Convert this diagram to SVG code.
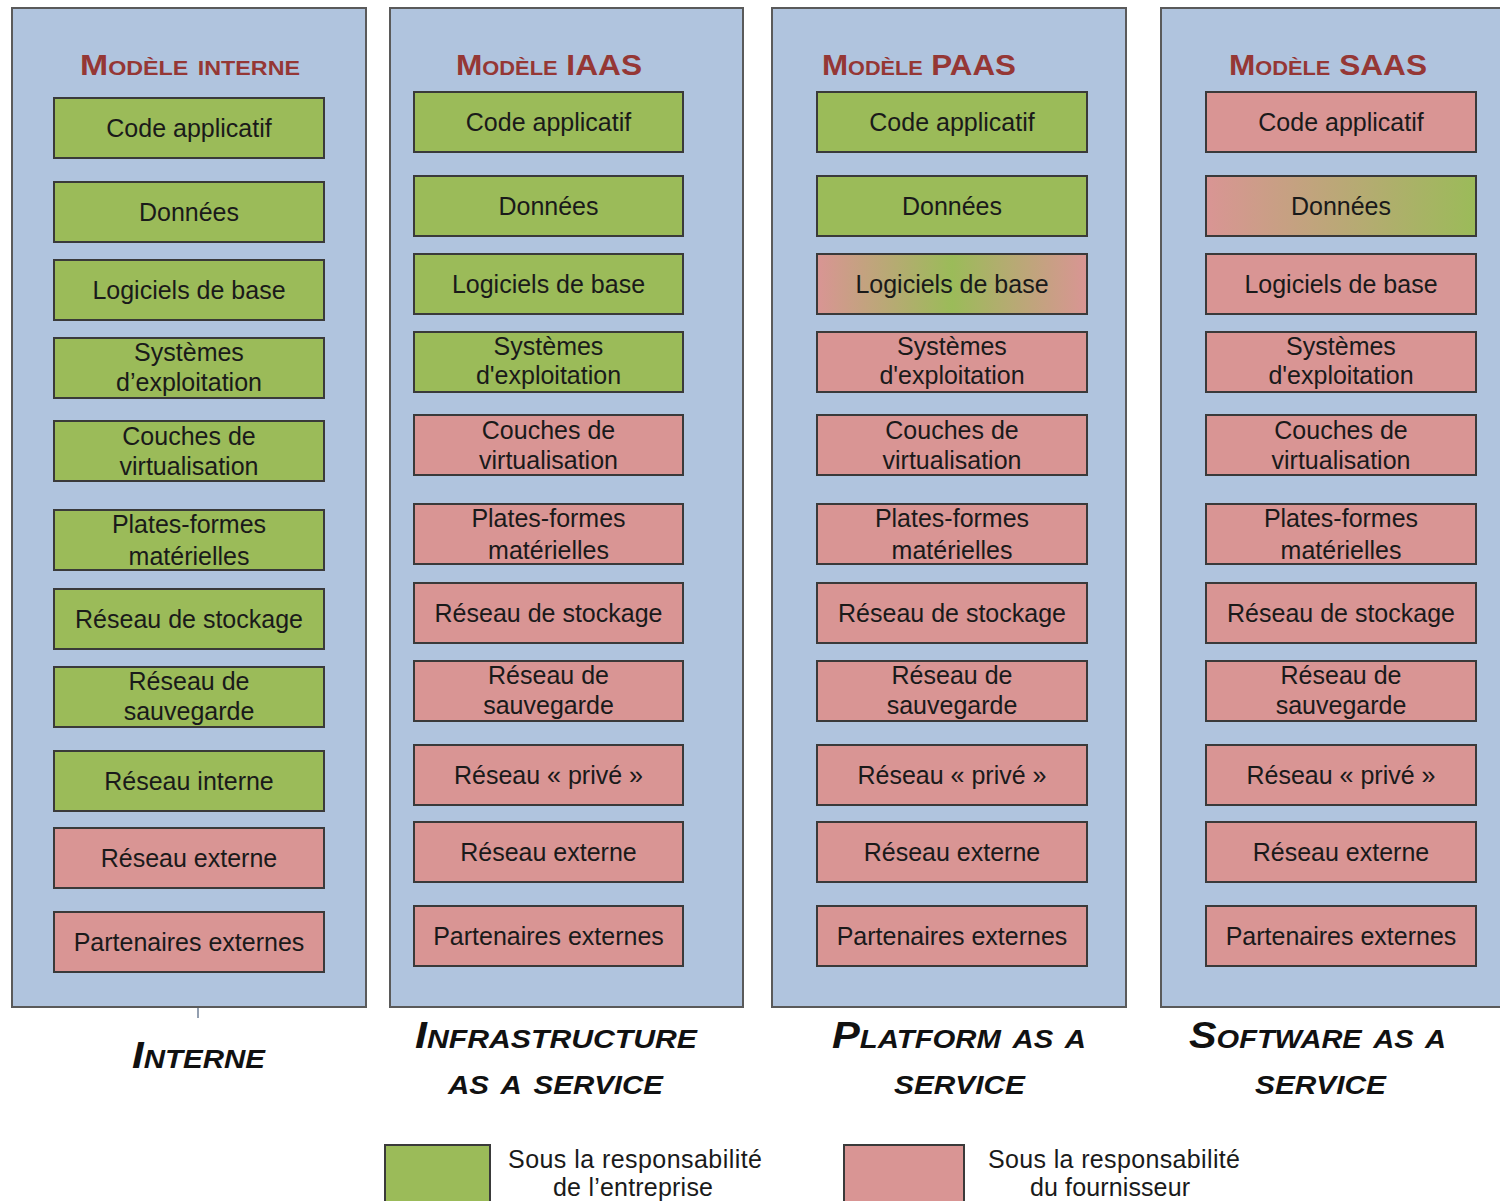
<svg xmlns="http://www.w3.org/2000/svg" width="1500" height="1201" viewBox="0 0 1500 1201">
<style>
.col{fill:#b0c4de;stroke:#5a5a5a;stroke-width:2}
.g{fill:#9bbb59;stroke:#3a3a3a;stroke-width:2}
.p{fill:#d99594;stroke:#3a3a3a;stroke-width:2}
.t{font-family:"Liberation Sans",Arial,sans-serif;font-size:25px;fill:#1a1a1a;text-anchor:middle}
.h{font-family:"Liberation Sans",Arial,sans-serif;font-size:29px;font-weight:bold;font-variant:small-caps;fill:#953735;text-anchor:middle}
.b{font-family:"Liberation Sans",Arial,sans-serif;font-size:37px;font-weight:bold;font-style:italic;font-variant:small-caps;fill:#111;text-anchor:middle}
.l{font-family:"Liberation Sans",Arial,sans-serif;font-size:25px;fill:#1a1a1a;text-anchor:middle}
.c{stroke:#6f7f96;stroke-width:1.5;fill:none}
</style>
<defs>
<linearGradient id="gpg" x1="0" y1="0" x2="1" y2="0">
<stop offset="0" stop-color="#d99594"/><stop offset="0.5" stop-color="#9bbb59"/><stop offset="1" stop-color="#d99594"/>
</linearGradient>
<linearGradient id="gpg2" x1="0" y1="0" x2="1" y2="0">
<stop offset="0" stop-color="#d99594"/><stop offset="1" stop-color="#9bbb59"/>
</linearGradient>
</defs>
<rect width="1500" height="1201" fill="#ffffff"/>

<g id="connectors">
<line class="c" x1="952" y1="315" x2="952" y2="331"/>
<line class="c" x1="198" y1="1008" x2="198" y2="1018"/>
</g>

<g id="col-interne">
<rect class="col" x="12" y="8" width="354" height="999"/>
<text class="h" x="190" y="75" textLength="220" lengthAdjust="spacingAndGlyphs">Modèle interne</text>
<g id="i1"><rect class="g" x="54" y="98" width="270" height="60"/><text class="t" x="189" y="137">Code applicatif</text></g>
<g id="i2"><rect class="g" x="54" y="182" width="270" height="60"/><text class="t" x="189" y="221">Données</text></g>
<g id="i3"><rect class="g" x="54" y="260" width="270" height="60"/><text class="t" x="189" y="299">Logiciels de base</text></g>
<g id="i4"><rect class="g" x="54" y="338" width="270" height="60"/><text class="t" x="189" y="361">Systèmes</text><text class="t" x="189" y="391">d’exploitation</text></g>
<g id="i5"><rect class="g" x="54" y="421" width="270" height="60"/><text class="t" x="189" y="445">Couches de</text><text class="t" x="189" y="475">virtualisation</text></g>
<g id="i6"><rect class="g" x="54" y="510" width="270" height="60"/><text class="t" x="189" y="533">Plates-formes</text><text class="t" x="189" y="565">matérielles</text></g>
<g id="i7"><rect class="g" x="54" y="589" width="270" height="60"/><text class="t" x="189" y="628">Réseau de stockage</text></g>
<g id="i8"><rect class="g" x="54" y="667" width="270" height="60"/><text class="t" x="189" y="690">Réseau de</text><text class="t" x="189" y="720">sauvegarde</text></g>
<g id="i9"><rect class="g" x="54" y="751" width="270" height="60"/><text class="t" x="189" y="790">Réseau interne</text></g>
<g id="i10"><rect class="p" x="54" y="828" width="270" height="60"/><text class="t" x="189" y="867">Réseau externe</text></g>
<g id="i11"><rect class="p" x="54" y="912" width="270" height="60"/><text class="t" x="189" y="951">Partenaires externes</text></g>
</g>

<g id="col-iaas">
<rect class="col" x="390" y="8" width="353" height="999"/>
<text class="h" x="549" y="75" textLength="186" lengthAdjust="spacingAndGlyphs">Modèle IAAS</text>
<g id="a1"><rect class="g" x="414" y="92" width="269" height="60"/><text class="t" x="548.5" y="131">Code applicatif</text></g>
<g id="a2"><rect class="g" x="414" y="176" width="269" height="60"/><text class="t" x="548.5" y="215">Données</text></g>
<g id="a3"><rect class="g" x="414" y="254" width="269" height="60"/><text class="t" x="548.5" y="293">Logiciels de base</text></g>
<g id="a4"><rect class="g" x="414" y="332" width="269" height="60"/><text class="t" x="548.5" y="355">Systèmes</text><text class="t" x="548.5" y="384">d'exploitation</text></g>
<g id="a5"><rect class="p" x="414" y="415" width="269" height="60"/><text class="t" x="548.5" y="439">Couches de</text><text class="t" x="548.5" y="469">virtualisation</text></g>
<g id="a6"><rect class="p" x="414" y="504" width="269" height="60"/><text class="t" x="548.5" y="527">Plates-formes</text><text class="t" x="548.5" y="559">matérielles</text></g>
<g id="a7"><rect class="p" x="414" y="583" width="269" height="60"/><text class="t" x="548.5" y="622">Réseau de stockage</text></g>
<g id="a8"><rect class="p" x="414" y="661" width="269" height="60"/><text class="t" x="548.5" y="684">Réseau de</text><text class="t" x="548.5" y="714">sauvegarde</text></g>
<g id="a9"><rect class="p" x="414" y="745" width="269" height="60"/><text class="t" x="548.5" y="784">Réseau « privé »</text></g>
<g id="a10"><rect class="p" x="414" y="822" width="269" height="60"/><text class="t" x="548.5" y="861">Réseau externe</text></g>
<g id="a11"><rect class="p" x="414" y="906" width="269" height="60"/><text class="t" x="548.5" y="945">Partenaires externes</text></g>
</g>

<g id="col-paas">
<rect class="col" x="772" y="8" width="354" height="999"/>
<text class="h" x="919" y="75" textLength="194" lengthAdjust="spacingAndGlyphs">Modèle PAAS</text>
<g id="b1"><rect class="g" x="817" y="92" width="270" height="60"/><text class="t" x="952" y="131">Code applicatif</text></g>
<g id="b2"><rect class="g" x="817" y="176" width="270" height="60"/><text class="t" x="952" y="215">Données</text></g>
<g id="b3"><rect x="817" y="254" width="270" height="60" fill="url(#gpg)" stroke="#3a3a3a" stroke-width="2"/><text class="t" x="952" y="293">Logiciels de base</text></g>
<g id="b4"><rect class="p" x="817" y="332" width="270" height="60"/><text class="t" x="952" y="355">Systèmes</text><text class="t" x="952" y="384">d'exploitation</text></g>
<g id="b5"><rect class="p" x="817" y="415" width="270" height="60"/><text class="t" x="952" y="439">Couches de</text><text class="t" x="952" y="469">virtualisation</text></g>
<g id="b6"><rect class="p" x="817" y="504" width="270" height="60"/><text class="t" x="952" y="527">Plates-formes</text><text class="t" x="952" y="559">matérielles</text></g>
<g id="b7"><rect class="p" x="817" y="583" width="270" height="60"/><text class="t" x="952" y="622">Réseau de stockage</text></g>
<g id="b8"><rect class="p" x="817" y="661" width="270" height="60"/><text class="t" x="952" y="684">Réseau de</text><text class="t" x="952" y="714">sauvegarde</text></g>
<g id="b9"><rect class="p" x="817" y="745" width="270" height="60"/><text class="t" x="952" y="784">Réseau « privé »</text></g>
<g id="b10"><rect class="p" x="817" y="822" width="270" height="60"/><text class="t" x="952" y="861">Réseau externe</text></g>
<g id="b11"><rect class="p" x="817" y="906" width="270" height="60"/><text class="t" x="952" y="945">Partenaires externes</text></g>
</g>

<g id="col-saas">
<rect class="col" x="1161" y="8" width="345" height="999"/>
<text class="h" x="1328" y="75" textLength="198" lengthAdjust="spacingAndGlyphs">Modèle SAAS</text>
<g id="s1"><rect class="p" x="1206" y="92" width="270" height="60"/><text class="t" x="1341" y="131">Code applicatif</text></g>
<g id="s2"><rect x="1206" y="176" width="270" height="60" fill="url(#gpg2)" stroke="#3a3a3a" stroke-width="2"/><text class="t" x="1341" y="215">Données</text></g>
<g id="s3"><rect class="p" x="1206" y="254" width="270" height="60"/><text class="t" x="1341" y="293">Logiciels de base</text></g>
<g id="s4"><rect class="p" x="1206" y="332" width="270" height="60"/><text class="t" x="1341" y="355">Systèmes</text><text class="t" x="1341" y="384">d'exploitation</text></g>
<g id="s5"><rect class="p" x="1206" y="415" width="270" height="60"/><text class="t" x="1341" y="439">Couches de</text><text class="t" x="1341" y="469">virtualisation</text></g>
<g id="s6"><rect class="p" x="1206" y="504" width="270" height="60"/><text class="t" x="1341" y="527">Plates-formes</text><text class="t" x="1341" y="559">matérielles</text></g>
<g id="s7"><rect class="p" x="1206" y="583" width="270" height="60"/><text class="t" x="1341" y="622">Réseau de stockage</text></g>
<g id="s8"><rect class="p" x="1206" y="661" width="270" height="60"/><text class="t" x="1341" y="684">Réseau de</text><text class="t" x="1341" y="714">sauvegarde</text></g>
<g id="s9"><rect class="p" x="1206" y="745" width="270" height="60"/><text class="t" x="1341" y="784">Réseau « privé »</text></g>
<g id="s10"><rect class="p" x="1206" y="822" width="270" height="60"/><text class="t" x="1341" y="861">Réseau externe</text></g>
<g id="s11"><rect class="p" x="1206" y="906" width="270" height="60"/><text class="t" x="1341" y="945">Partenaires externes</text></g>
</g>

<g id="labels">
<text class="b" x="198.5" y="1068" textLength="133" lengthAdjust="spacingAndGlyphs">Interne</text>
<text class="b" x="556" y="1048" textLength="282" lengthAdjust="spacingAndGlyphs">Infrastructure</text>
<text class="b" x="555.5" y="1094" textLength="215" lengthAdjust="spacingAndGlyphs">as a service</text>
<text class="b" x="959" y="1048" textLength="254" lengthAdjust="spacingAndGlyphs">Platform as a</text>
<text class="b" x="959.5" y="1094" textLength="131" lengthAdjust="spacingAndGlyphs">service</text>
<text class="b" x="1317.5" y="1048" textLength="257" lengthAdjust="spacingAndGlyphs">Software as a</text>
<text class="b" x="1320.5" y="1094" textLength="131" lengthAdjust="spacingAndGlyphs">service</text>
</g>

<g id="legend">
<g id="leg-green"><rect class="g" x="385" y="1145" width="105" height="60"/><text class="l" x="635" y="1168" textLength="254">Sous la responsabilité</text><text class="l" x="633" y="1196" textLength="160">de l’entreprise</text></g>
<g id="leg-pink"><rect class="p" x="844" y="1145" width="120" height="60"/><text class="l" x="1114" y="1168" textLength="252">Sous la responsabilité</text><text class="l" x="1110" y="1196" textLength="160">du fournisseur</text></g>
</g>
</svg>
